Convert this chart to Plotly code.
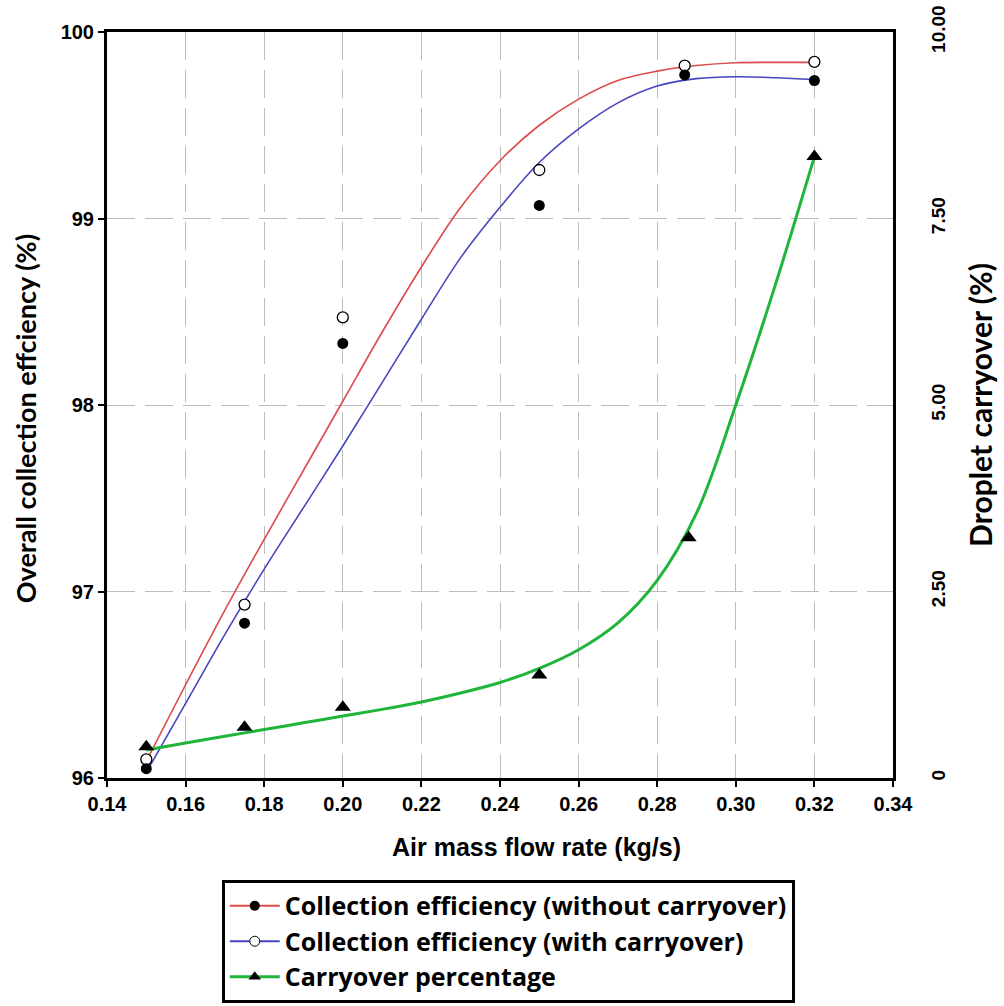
import plotly.graph_objects as go

# Measured data points
flow_rate = [0.15, 0.175, 0.20, 0.25, 0.287, 0.32]
eff_without = [96.05, 96.83, 98.33, 99.07, 99.77, 99.74]
eff_with = [96.10, 96.93, 98.47, 99.26, 99.82, 99.84]

carry_x = [0.15, 0.175, 0.20, 0.25, 0.288, 0.32]
carryover = [0.42, 0.68, 0.95, 1.38, 3.22, 8.33]

# Fitted trend curves, sampled every 0.01 kg/s
fit_x = [0.15, 0.16, 0.17, 0.18, 0.19, 0.20, 0.21, 0.22, 0.23, 0.24,
         0.25, 0.26, 0.27, 0.28, 0.29, 0.30, 0.31, 0.32]
red_fit_y = [96.09, 96.50, 96.90, 97.28, 97.65, 98.02, 98.39, 98.74, 99.06, 99.31,
             99.50, 99.64, 99.74, 99.79, 99.82, 99.835, 99.837, 99.837]
blue_fit_y = [96.03, 96.40, 96.77, 97.12, 97.45, 97.78, 98.12, 98.46, 98.79, 99.06,
              99.30, 99.48, 99.62, 99.71, 99.75, 99.76, 99.755, 99.745]
green_fit_y = [0.375, 0.47, 0.56, 0.65, 0.74, 0.83, 0.92, 1.02, 1.14, 1.28,
               1.47, 1.72, 2.08, 2.65, 3.55, 5.0, 6.6, 8.33]

x_ticks = [0.14, 0.16, 0.18, 0.20, 0.22, 0.24, 0.26, 0.28, 0.30, 0.32, 0.34]
x_ticktext = ["0.14", "0.16", "0.18", "0.20", "0.22", "0.24", "0.26", "0.28", "0.30", "0.32", "0.34"]
y_ticks = [96, 97, 98, 99, 100]
y2_ticks = [0, 2.5, 5, 7.5, 10]
y2_ticktext = ["0", "2.50", "5.00", "7.50", "10.00"]

RED = "#dc4a4a"
BLUE = "#4646c0"
GREEN = "#1fb53a"

fig = go.Figure()

# Trend curves
fig.add_trace(go.Scatter(x=fit_x, y=red_fit_y, mode="lines",
                         line=dict(color=RED, width=1.6, shape="spline", smoothing=1.0),
                         showlegend=False, hoverinfo="skip"))
fig.add_trace(go.Scatter(x=fit_x, y=blue_fit_y, mode="lines",
                         line=dict(color=BLUE, width=1.6, shape="spline", smoothing=1.0),
                         showlegend=False, hoverinfo="skip"))
fig.add_trace(go.Scatter(x=fit_x, y=green_fit_y, mode="lines", yaxis="y2",
                         line=dict(color=GREEN, width=3, shape="spline", smoothing=1.0),
                         showlegend=False, hoverinfo="skip"))

# Data markers
fig.add_trace(go.Scatter(x=flow_rate, y=eff_with, mode="markers",
                         marker=dict(symbol="circle", size=11, color="white",
                                     line=dict(color="black", width=1.3)),
                         showlegend=False))
fig.add_trace(go.Scatter(x=flow_rate, y=eff_without, mode="markers",
                         marker=dict(symbol="circle", size=11, color="black"),
                         showlegend=False))
fig.add_trace(go.Scatter(x=carry_x, y=carryover, mode="markers", yaxis="y2",
                         marker=dict(symbol="triangle-up", size=14, color="black"),
                         showlegend=False))

# Legend entries
fig.add_trace(go.Scatter(x=[None], y=[None], mode="lines+markers",
                         name="Collection efficiency (without carryover)",
                         line=dict(color=RED, width=2),
                         marker=dict(symbol="circle", size=10, color="black")))
fig.add_trace(go.Scatter(x=[None], y=[None], mode="lines+markers",
                         name="Collection efficiency (with carryover)",
                         line=dict(color=BLUE, width=2),
                         marker=dict(symbol="circle", size=10, color="white",
                                     line=dict(color="black", width=1))))
fig.add_trace(go.Scatter(x=[None], y=[None], mode="lines+markers",
                         name="Carryover percentage",
                         line=dict(color=GREEN, width=3),
                         marker=dict(symbol="triangle-up", size=11, color="black")))

tick_font = dict(family="Liberation Sans", size=20, color="black", weight="bold")
grid = dict(showgrid=True, gridcolor="#bcbcbc", gridwidth=1.3, griddash="28px,10px")

# Axis titles placed as annotations
fig.add_annotation(text="Air mass flow rate (kg/s)", xref="paper", yref="paper",
                   x=0.546, y=-0.0925, xanchor="center", yanchor="middle", showarrow=False,
                   font=dict(family="Liberation Sans", size=25, color="black", weight="bold"))
fig.add_annotation(text="Overall collection effciency (%)", xref="paper", yref="paper",
                   x=-0.1043, y=0.481, xanchor="center", yanchor="middle", showarrow=False,
                   textangle=-90,
                   font=dict(family="Lato", size=27, color="black", weight="bold"))

fig.update_layout(
    width=1004, height=1006,
    margin=dict(l=107, r=111, t=32, b=228, autoexpand=False),
    paper_bgcolor="white", plot_bgcolor="white",
    xaxis=dict(range=[0.14, 0.34], tickvals=x_ticks, ticktext=x_ticktext,
               ticks="outside", ticklen=6, tickwidth=2, tickcolor="black",
               showline=True, linecolor="black", linewidth=3, mirror=True,
               tickfont=tick_font, zeroline=False, automargin=False,
               **grid),
    yaxis=dict(range=[96, 100], tickvals=y_ticks,
               ticks="outside", ticklen=6, tickwidth=2, tickcolor="black",
               showline=True, linecolor="black", linewidth=3, mirror=True,
               tickfont=tick_font, zeroline=False, automargin=False,
               **grid),
    yaxis2=dict(range=[0, 10], tickvals=y2_ticks, ticktext=y2_ticktext,
                overlaying="y", side="right", showline=False, ticks="",
                tickangle=-90, ticklabelstandoff=32, automargin=False,
                tickfont=dict(family="Liberation Sans", size=19, color="black", weight="bold"),
                showgrid=False, zeroline=False,
                title=dict(text="Droplet carryover (%)",
                           font=dict(family="Lato", size=30, color="black", weight="bold"),
                           standoff=22)),
    legend=dict(x=0.146, y=-0.1367, xanchor="left", yanchor="top",
                bordercolor="black", borderwidth=3, bgcolor="white",
                font=dict(family="Open Sans", size=25, color="black", weight="bold"),
                itemwidth=50, tracegroupgap=0),
    showlegend=True,
)

fig.write_html("out.html")
